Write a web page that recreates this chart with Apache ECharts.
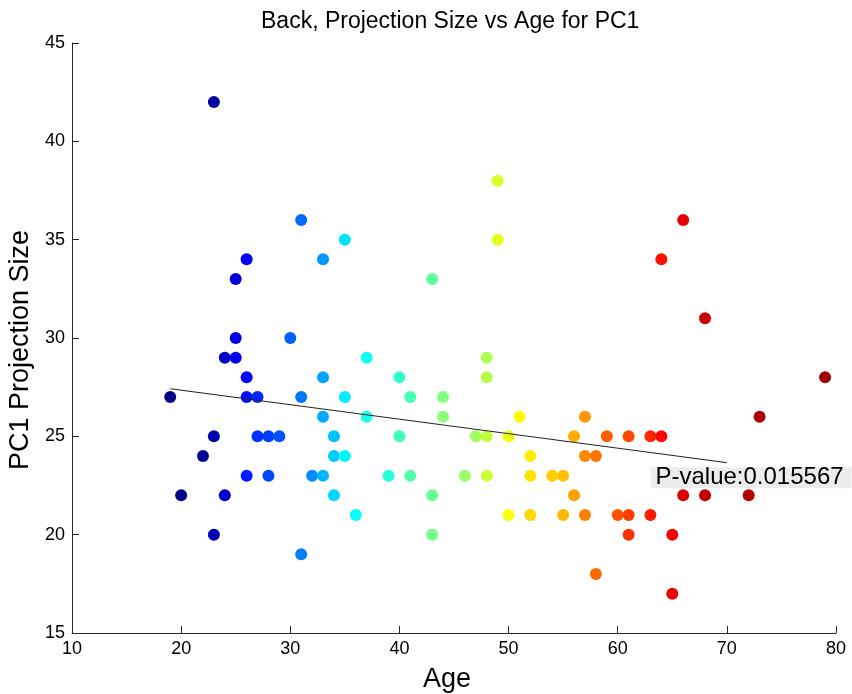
<!DOCTYPE html>
<html>
<head>
<meta charset="utf-8">
<script src="https://cdn.jsdelivr.net/npm/echarts@6/dist/echarts.min.js"></script>
<style>
  html, body { margin: 0; padding: 0; background: #fff; }
  #chart { width: 852px; height: 694px; }
</style>
</head>
<body>
<div id="chart"></div>
<script>
// Subjects sorted by age; each point is coloured by its position in this order.
const ages = [
  19, 20, 22, 23, 23, 23, 24, 24, 25, 25, 25, 26, 26, 26, 26, 27, 27, 28, 28, 29,
  30, 31, 31, 31, 32, 33, 33, 33, 33, 34, 34, 34, 35, 35, 35, 36, 37, 37, 39, 40,
  40, 41, 41, 43, 43, 43, 44, 44, 46, 47, 48, 48, 48, 48, 49, 49, 50, 50, 51, 52,
  52, 52, 54, 55, 55, 56, 56, 57, 57, 57, 58, 58, 59, 60, 61, 61, 61, 63, 63, 64,
  64, 65, 65, 66, 66, 68, 68, 72, 73, 79
];
const projSize = [
  27, 22, 24, 42, 25, 20, 29, 22, 33, 30, 29, 34, 28, 27, 23, 27, 25, 25, 23, 25,
  30, 36, 27, 19, 23, 34, 28, 26, 23, 25, 24, 22, 35, 27, 24, 21, 29, 26, 23, 28,
  25, 27, 23, 33, 22, 20, 27, 26, 23, 25, 29, 28, 25, 23, 38, 35, 25, 21, 26, 24,
  23, 21, 23, 23, 21, 25, 22, 26, 24, 21, 24, 18, 25, 21, 25, 21, 20, 25, 21, 34,
  25, 20, 17, 36, 22, 31, 22, 22, 26, 28
];

// Least-squares trend line endpoints (age, size)
const fitAge = [19, 70];
const fitSize = [27.42, 23.66];

// Annotation text and its anchor (age, size)
const pValueText = 'P-value:0.015567';
const pValueAt = [63, 22.9];

const xTicks = { min: 10, max: 80, interval: 10 };
const yTicks = { min: 15, max: 45, interval: 5 };

// MATLAB "jet" colormap stops
const jet = ['#000080', '#0000ff', '#0080ff', '#00ffff', '#80ff80', '#ffff00', '#ff8000', '#ff0000', '#800000'];
// colour scale extent over the sample index
const colorIndexMax = 92;

const points = ages.map((a, i) => [a, projSize[i], i]);
const fitLine = fitAge.map((a, i) => [a, fitSize[i]]);

const FONT = 'Liberation Sans, Arial, Helvetica, sans-serif';
const axisColor = '#262626';

const chart = echarts.init(document.getElementById('chart'), null, { renderer: 'canvas' });
chart.setOption({
  backgroundColor: '#ffffff',
  animation: false,
  title: {
    text: 'Back, Projection Size vs Age for PC1',
    left: 256,
    top: 5,
    textStyle: { fontFamily: FONT, fontSize: 23, fontWeight: 'normal', color: '#000' }
  },
  grid: { left: 72, right: 16, top: 43, bottom: 61, containLabel: false, outerBoundsMode: 'none' },
  xAxis: {
    type: 'value',
    min: xTicks.min, max: xTicks.max, interval: xTicks.interval,
    name: 'Age',
    nameLocation: 'middle',
    nameGap: 33,
    nameTextStyle: { fontFamily: FONT, fontSize: 27, color: '#000', padding: [0, 14, 0, 0] },
    axisLine: { show: true, onZero: false, lineStyle: { color: axisColor, width: 1 } },
    axisTick: { show: true, inside: true, length: 7, lineStyle: { color: axisColor } },
    axisLabel: { fontFamily: FONT, fontSize: 18, color: '#000', margin: 7 },
    splitLine: { show: false }
  },
  yAxis: {
    type: 'value',
    min: yTicks.min, max: yTicks.max, interval: yTicks.interval,
    name: 'PC1 Projection Size',
    nameLocation: 'middle',
    nameGap: 34,
    nameTextStyle: { fontFamily: FONT, fontSize: 27, color: '#000', padding: [0, 24, 0, 0] },
    axisLine: { show: true, onZero: false, lineStyle: { color: axisColor, width: 1 } },
    axisTick: { show: true, inside: true, length: 7, lineStyle: { color: axisColor } },
    axisLabel: { fontFamily: FONT, fontSize: 18, color: '#000', margin: 7 },
    splitLine: { show: false }
  },
  visualMap: {
    show: false,
    type: 'continuous',
    seriesIndex: 0,
    dimension: 2,
    min: 0,
    max: colorIndexMax,
    inRange: { color: jet }
  },
  series: [
    {
      type: 'scatter',
      data: points,
      symbol: 'circle',
      symbolSize: 12,
      itemStyle: { opacity: 1 },
      z: 2
    },
    {
      type: 'line',
      data: fitLine,
      symbol: 'none',
      lineStyle: { color: '#222', width: 1 },
      z: 3
    }
  ]
});

// P-value annotation anchored at a data position
const anchor = chart.convertToPixel({ gridIndex: 0 }, pValueAt);
chart.setOption({
  graphic: [{
    type: 'text',
    x: anchor[0],
    y: anchor[1],
    z: 100,
    style: {
      text: pValueText,
      fontFamily: FONT,
      fontSize: 24,
      fill: '#000',
      align: 'left',
      verticalAlign: 'middle',
      backgroundColor: '#ececec',
      padding: [0, 8, 0, 5],
      lineHeight: 21
    }
  }]
});
</script>
</body>
</html>
